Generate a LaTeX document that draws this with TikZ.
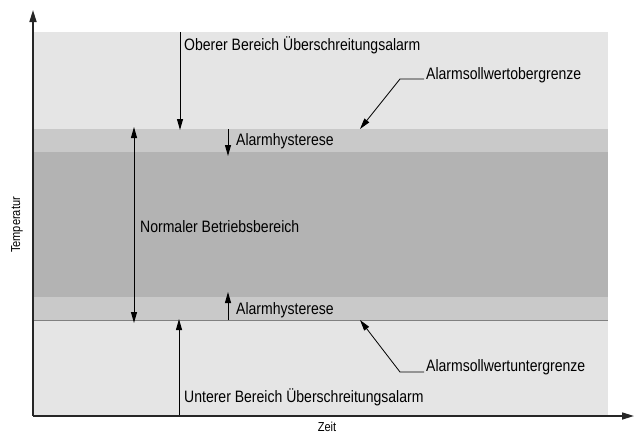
\documentclass[tikz,border=0pt]{standalone}
\usepackage{fontspec}
\setmainfont{Liberation Sans}[FakeStretch=0.85]
\usetikzlibrary{arrows.meta}
\definecolor{bandlight}{HTML}{E5E5E5}
\definecolor{bandmid}{HTML}{C9C9C9}
\definecolor{banddark}{HTML}{B3B3B3}
\tikzset{
  lbl/.style={anchor=west, inner sep=0pt, font=\fontsize{16.5}{18}\selectfont},
  axlbl/.style={inner sep=0pt, font=\fontsize{13}{15}\selectfont},
  arr/.style={line width=1pt, -{Triangle[length=11pt,width=6pt]}},
  darr/.style={line width=1pt, {Triangle[length=11pt,width=6pt]}-{Triangle[length=11pt,width=6pt]}},
  lead/.style={line width=0.8pt, -{Triangle[length=11pt,width=6pt]}},
  axis/.style={line width=1.6pt, draw=black!85, -{Triangle[length=12pt,width=7pt]}}
}
\begin{document}
\begin{tikzpicture}[x=1pt,y=-1pt]
\useasboundingbox (0,0) rectangle (638,434);
% bands
\fill[bandlight] (32,32) rectangle (608,129);
\fill[bandmid] (32,129) rectangle (608,152);
\fill[banddark] (32,152) rectangle (608,297);
\fill[bandmid] (32,297) rectangle (608,320);
\fill[bandlight] (32,320) rectangle (608,415);
\draw[gray, line width=0.8pt] (32,320) -- (608,320);
% axes
\coordinate (O) at (33,416);
\coordinate (Ytop) at (33,10);
\coordinate (Xend) at (634,416);
\draw[axis] (O) -- (Ytop);
\draw[axis] (O) -- (Xend);
\node[axlbl, rotate=90] (tmp) at (17,225) {Temperatur};
\node[axlbl, anchor=north] (zeit) at (327,421.5) {Zeit};
% coordinates for arrows
\coordinate (obTop) at (180,32);
\coordinate (obBot) at (180,130);
\coordinate (nTop) at (134,127);
\coordinate (nBot) at (134,323);
\coordinate (h1a) at (228,129);
\coordinate (h1b) at (228,156);
\coordinate (h2a) at (228,320);
\coordinate (h2b) at (228,292);
\coordinate (unBot) at (179,415);
\coordinate (unTop) at (179,319);
\draw[arr] (obTop) -- (obBot);
\draw[darr] (nTop) -- (nBot);
\draw[arr] (h1a) -- (h1b);
\draw[arr] (h2a) -- (h2b);
\draw[arr] (unBot) -- (unTop);
% labels
\node[lbl] (ober) at (184,45) {Oberer Bereich Überschreitungsalarm};
\node[lbl] (hyst1) at (236,141) {Alarmhysterese};
\node[lbl] (norm) at (140,227) {Normaler Betriebsbereich};
\node[lbl] (hyst2) at (236,310) {Alarmhysterese};
\node[lbl] (unter) at (184,397) {Unterer Bereich Überschreitungsalarm};
\node[lbl] (obg) at (426,75) {Alarmsollwertobergrenze};
\node[lbl] (ug) at (426,367) {Alarmsollwertuntergrenze};
% leaders
\coordinate (obgK) at (400,79);
\coordinate (obgT) at (360,129);
\coordinate (ugK) at (400,372);
\coordinate (ugT) at (360,320);
\draw[lead] (obg.west |- obgK) ++(-2,0) -- (obgK) -- (obgT);
\draw[lead] (ug.west |- ugK) ++(-2,0) -- (ugK) -- (ugT);
\end{tikzpicture}
\end{document}
